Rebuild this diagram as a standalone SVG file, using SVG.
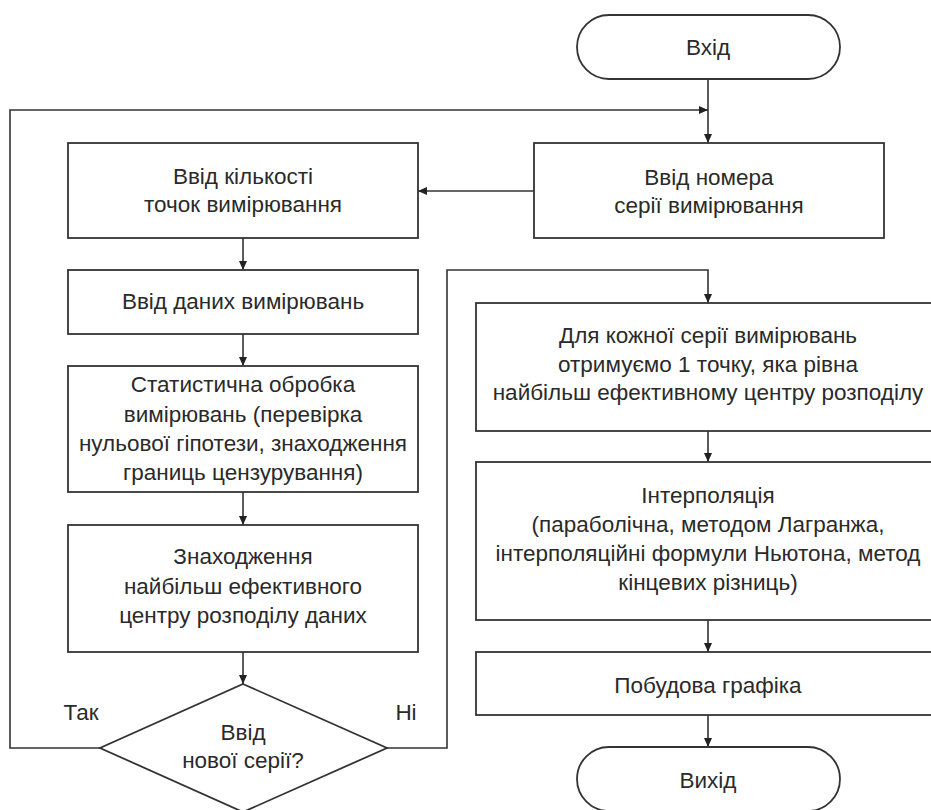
<svg xmlns="http://www.w3.org/2000/svg" width="931" height="810" viewBox="0 0 931 810">
<defs>
<marker id="ah" markerWidth="10" markerHeight="10" refX="9" refY="4" orient="auto" markerUnits="userSpaceOnUse">
<path d="M0,0 L9,4 L0,8 Z" fill="#222"/>
</marker>
<style>
.b{fill:#fff;stroke:#333;stroke-width:1.8}
.t{font-family:"Liberation Sans",Arial,sans-serif;font-size:22.5px;fill:#2a2a2a;text-anchor:middle}
.c{fill:none;stroke:#333;stroke-width:1.6}
</style>
</defs>
<rect width="931" height="810" fill="#fff"/>
<g id="connectors">
<path class="c" d="M708,79 V143" marker-end="url(#ah)"/>
<path class="c" d="M100,748 H10 V110 H708" marker-end="url(#ah)"/>
<path class="c" d="M534,191 H418" marker-end="url(#ah)"/>
<path class="c" d="M243,238 V270" marker-end="url(#ah)"/>
<path class="c" d="M243,334 V366" marker-end="url(#ah)"/>
<path class="c" d="M243,492 V525" marker-end="url(#ah)"/>
<path class="c" d="M243,652 V684" marker-end="url(#ah)"/>
<path class="c" d="M387,748 H447 V270 H708 V303" marker-end="url(#ah)"/>
<path class="c" d="M708,431 V462" marker-end="url(#ah)"/>
<path class="c" d="M708,620 V652" marker-end="url(#ah)"/>
<path class="c" d="M708,715 V747" marker-end="url(#ah)"/>
</g>
<g id="start">
<rect class="b" x="577" y="15" width="263" height="64" rx="32" ry="32"/>
<text class="t" x="708" y="55">Вхід</text>
</g>
<g id="seriesNumber">
<rect class="b" x="534" y="143" width="350" height="95"/>
<text class="t" x="709" y="185">Ввід номера</text>
<text class="t" x="709" y="213">серії вимірювання</text>
</g>
<g id="pointsCount">
<rect class="b" x="68" y="143" width="350" height="95"/>
<text class="t" x="243" y="184">Ввід кількості</text>
<text class="t" x="243" y="212">точок вимірювання</text>
</g>
<g id="dataInput">
<rect class="b" x="68" y="270" width="350" height="64"/>
<text class="t" x="243" y="309">Ввід даних вимірювань</text>
</g>
<g id="statistics">
<rect class="b" x="68" y="366" width="350" height="126"/>
<text class="t" x="243" y="392">Статистична обробка</text>
<text class="t" x="243" y="422">вимірювань (перевірка</text>
<text class="t" x="243" y="451">нульової гіпотези, знаходження</text>
<text class="t" x="243" y="480">границь цензурування)</text>
</g>
<g id="center">
<rect class="b" x="68" y="525" width="350" height="127"/>
<text class="t" x="243" y="564">Знаходження</text>
<text class="t" x="243" y="594">найбільш ефективного</text>
<text class="t" x="243" y="623">центру розподілу даних</text>
</g>
<g id="decision">
<polygon class="b" points="243,684 387,748 243,812 100,748"/>
<text class="t" x="243" y="740">Ввід</text>
<text class="t" x="243" y="768">нової серії?</text>
</g>
<g id="labels">
<text class="t" x="81" y="720">Так</text>
<text class="t" x="406" y="720">Ні</text>
</g>
<g id="perSeries">
<rect class="b" x="476" y="303" width="464" height="128"/>
<text class="t" x="708" y="343">Для кожної серії вимірювань</text>
<text class="t" x="708" y="372">отримуємо 1 точку, яка рівна</text>
<text class="t" x="708" y="400">найбільш ефективному центру розподілу</text>
</g>
<g id="interpolation">
<rect class="b" x="476" y="462" width="464" height="158"/>
<text class="t" x="708" y="503">Інтерполяція</text>
<text class="t" x="708" y="532">(параболічна, методом Лагранжа,</text>
<text class="t" x="708" y="561">інтерполяційні формули Ньютона, метод</text>
<text class="t" x="708" y="590">кінцевих різниць)</text>
</g>
<g id="plot">
<rect class="b" x="476" y="652" width="464" height="63"/>
<text class="t" x="708" y="693">Побудова графіка</text>
</g>
<g id="end">
<rect class="b" x="577" y="747" width="263" height="64" rx="32" ry="32"/>
<text class="t" x="708" y="788">Вихід</text>
</g>
</svg>
